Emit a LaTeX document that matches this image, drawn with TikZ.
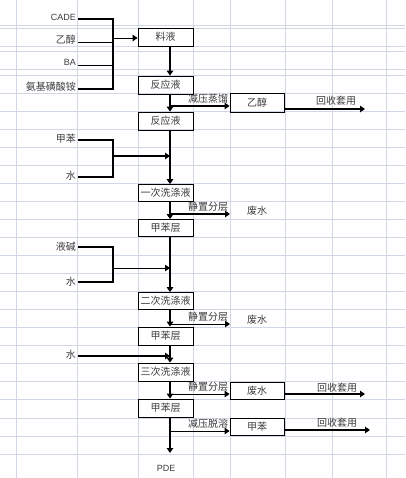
\documentclass[tikz,border=0pt]{standalone}
\usepackage{fontspec}
\newfontfamily\cjk{Noto Sans CJK SC}
\newfontfamily\lat{Liberation Sans}
\usetikzlibrary{arrows.meta}
\definecolor{gridc}{RGB}{208,215,229}
\definecolor{txt}{RGB}{60,60,60}
\begin{document}
\begin{tikzpicture}[x=1pt,y=-1pt,
  box/.style={draw=black,line width=0.8pt,minimum width=55pt,minimum height=18pt,inner sep=0pt,text=txt,font=\cjk\fontsize{10}{12}\selectfont},
  lbl/.style={inner sep=0pt,text=txt,font=\cjk\fontsize{10}{12}\selectfont},
  llbl/.style={inner sep=0pt,text=txt,font=\lat\fontsize{9}{10}\selectfont},
  thk/.style={line width=2.2pt},
  thn/.style={line width=0.9pt},
  tip/.style={-{Triangle[length=5pt,width=6.5pt]}}
]
\useasboundingbox (0,0) rectangle (405,478);
\fill[white] (0,0) rectangle (405,478);
% grid
\foreach \x in {16.7,77.7,138.3,193.3,230.7,285,332.7,386.7}
  \draw[gridc,line width=0.8pt] (\x,0) -- (\x,478);
\foreach \y in {25,28,46,51,69,75}
  \draw[gridc,line width=0.8pt] (0,\y) -- (405,\y);
\foreach \i in {0,...,20}
  \draw[gridc,line width=0.8pt] (0,93+18.05*\i) -- (405,93+18.05*\i);

% main column boxes
\coordinate (mx) at (170,0);
\node[box] (liao) at (165.5,37) {料液};
\node[box] (fy1) at (165.5,85) {反应液};
\node[box] (fy2) at (165.5,121) {反应液};
\node[box,minimum height=17pt] (xd1) at (165.5,193) {一次洗涤液};
\node[box,minimum height=17pt] (jb1) at (165.5,228) {甲苯层};
\node[box,minimum height=17pt] (xd2) at (165.5,301) {二次洗涤液};
\node[box] (jb2) at (165.5,336) {甲苯层};
\node[box] (xd3) at (165.5,372) {三次洗涤液};
\node[box] (jb3) at (165.5,408) {甲苯层};
% right boxes
\node[box,minimum width=54pt,minimum height=19pt] (yc) at (257,102.5) {乙醇};
\node[box,minimum width=54pt,minimum height=17pt] (fsb) at (257,390.5) {废水};
\node[box,minimum width=54pt,minimum height=17pt] (jbb) at (257,426.5) {甲苯};

% left inlet labels
\node[llbl,anchor=east] (cade) at (76,17) {CADE};
\node[lbl,anchor=east] (yichun) at (76,40) {乙醇};
\node[llbl,anchor=east] (ba) at (76,62) {BA};
\node[lbl,anchor=east] (afs) at (76,87) {氨基磺酸铵};
\node[lbl,anchor=east] (jbin) at (76,139) {甲苯};
\node[lbl,anchor=east] (sh1) at (76,176) {水};
\node[lbl,anchor=east] (yj) at (76,247) {液碱};
\node[lbl,anchor=east] (sh2) at (76,282) {水};
\node[lbl,anchor=east] (sh3) at (76,355) {水};

% inlet 1
\coordinate (s1) at (78,19);
\coordinate (s2) at (78,42);
\coordinate (s3) at (78,65);
\coordinate (s4) at (78,89);
\coordinate (k1) at (113,89);
\coordinate (k2) at (113,42);
\coordinate (k3) at (113,65);
\coordinate (f1) at (113,38);
\draw[thk,line join=miter] (s1) -| (k1) -- (s4);
\draw[thn] (s2) -- (k2);
\draw[thn] (s3) -- (k3);
\draw[thn,tip] (f1) -- (liao.west |- f1);

% inlet 2
\coordinate (a1) at (78,140);
\coordinate (a2) at (78,177);
\coordinate (ak) at (113,177);
\coordinate (af) at (113,156);
\coordinate (am) at (170,156);
\draw[thk,line join=miter] (a1) -| (ak) -- (a2);
\draw[thk,tip] (af) -- (am);

% inlet 3
\coordinate (c1) at (78,247);
\coordinate (c2) at (78,282);
\coordinate (ck) at (113,282);
\coordinate (cf) at (114,268);
\coordinate (cm) at (170,268);
\draw[thk,line join=miter] (c1) -| (ck) -- (c2);
\draw[thn,tip] (cf) -- (cm);

% inlet 4
\coordinate (d1) at (78,356);
\coordinate (dm) at (170,356);
\draw[thk,tip] (d1) -- (dm);

% main vertical
\draw[thk,tip] (liao.south -| mx) -- (fy1.north -| mx);
\draw[thk,tip] (fy1.south -| mx) -- (fy2.north -| mx);
\draw[thk,tip] (fy2.south -| mx) -- (xd1.north -| mx);
\draw[thk,tip] (xd1.south -| mx) -- (jb1.north -| mx);
\draw[thk,tip] (jb1.south -| mx) -- (xd2.north -| mx);
\draw[thk,tip] (xd2.south -| mx) -- (jb2.north -| mx);
\draw[thk,tip] (jb2.south -| mx) -- (xd3.north -| mx);
\draw[thk,tip] (xd3.south -| mx) -- (jb3.north -| mx);
\coordinate (endm) at (170,453);
\draw[thk,tip] (jb3.south -| mx) -- (endm);
\node[llbl] (pde) at (166,468) {PDE};

% branches
\coordinate (j1) at (170,106);
\draw[thk,tip] (j1) -- (yc.west |- j1);
\node[lbl] (t1) at (208,99) {减压蒸馏};
\coordinate (e1) at (365,109);
\draw[thk,tip] (yc.east |- e1) -- (e1);
\node[lbl] (r1) at (336,101) {回收套用};

\coordinate (j2) at (170,214);
\coordinate (e2) at (230,214);
\draw[thk,tip] (j2) -- (e2);
\node[lbl] (t2) at (208,207) {静置分层};
\node[lbl] (fs1) at (257,211) {废水};

\coordinate (j3) at (170,324);
\coordinate (e3) at (230,324);
\draw[thn,tip] (j3) -- (e3);
\node[lbl] (t3) at (208,317) {静置分层};
\node[lbl] (fs2) at (257,320) {废水};

\coordinate (j4) at (170,394);
\draw[thn,tip] (j4) -- (fsb.west |- j4);
\node[lbl] (t4) at (208,387) {静置分层};
\coordinate (e4) at (365,394);
\draw[thk,tip] (fsb.east |- e4) -- (e4);
\node[lbl] (r2) at (337,388) {回收套用};

\coordinate (j5) at (170,431);
\draw[thn,tip] (j5) -- (jbb.west |- j5);
\node[lbl] (t5) at (208,424) {减压脱溶};
\coordinate (e5) at (370,430);
\draw[thk,tip] (jbb.east |- e5) -- (e5);
\node[lbl] (r3) at (337,423) {回收套用};
\end{tikzpicture}
\end{document}
